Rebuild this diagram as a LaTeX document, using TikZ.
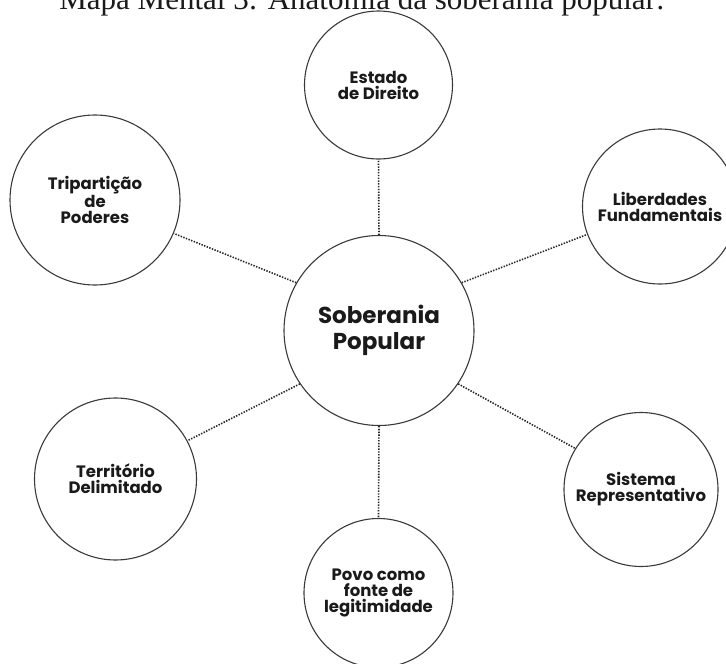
\documentclass[tikz,border=0pt]{standalone}
\usepackage{fontspec}
\setmainfont{Liberation Serif}
\newfontfamily\lblfont{Poppins}
\definecolor{ink}{HTML}{1A1A1A}
\definecolor{rim}{HTML}{3A3A3A}
\definecolor{spoke}{HTML}{262626}
\begin{document}
\begin{tikzpicture}[x=1pt,y=-1pt,
  topic/.style={circle, draw=rim, line width=1.1pt, fill=white, inner sep=0pt,
    align=center, text=ink, font=\lblfont\bfseries\fontsize{16.5}{16}\selectfont},
  hub/.style={topic, font=\lblfont\bfseries\fontsize{23}{25.5}\selectfont},
  link/.style={draw=spoke, line width=1.6pt, dash pattern=on 1.4pt off 1.4pt}]
\useasboundingbox (0,0) rectangle (726,664);
\clip (0,0) rectangle (726,664);

% heading, partly above the page edge
\node[anchor=base, text=ink, inner sep=0pt, font=\fontsize{31}{31}\selectfont]
  (title) at (362,9.5) {Mapa Mental 3: Anatomia da soberania popular:};

% central concept
\node[hub, minimum size=190pt] (hub) at (379,330.5) {Soberania\\Popular};

% surrounding concepts
\node[topic, minimum size=148pt] (estado) at (378.5,85)  {Estado\\de Direito};
\node[topic, minimum size=170pt] (trip)   at (95,200)    {Tripartição\\de\\Poderes};
\node[topic, minimum size=155pt] (lib)    at (660,206.5) {Liberdades\\Fundamentais};
\node[topic, minimum size=162pt] (terr)   at (115.5,479) {Território\\Delimitado};
\node[topic, minimum size=154pt] (sist)   at (641,489.5) {Sistema\\Representativo};
\node[topic, minimum size=149pt] (povo)   at (378.5,593) {Povo como\\fonte de\\legitimidade};

% dotted spokes
\draw[link] (hub.90)  -- (estado.270);
\draw[link] (hub.150) -- (trip.-23);
\draw[link] (hub.30)  -- (lib.201);
\draw[link] (hub.214) -- (terr.28);
\draw[link] (hub.326) -- (sist.148);
\draw[link] (hub.270) -- (povo.90);
\end{tikzpicture}
\end{document}
